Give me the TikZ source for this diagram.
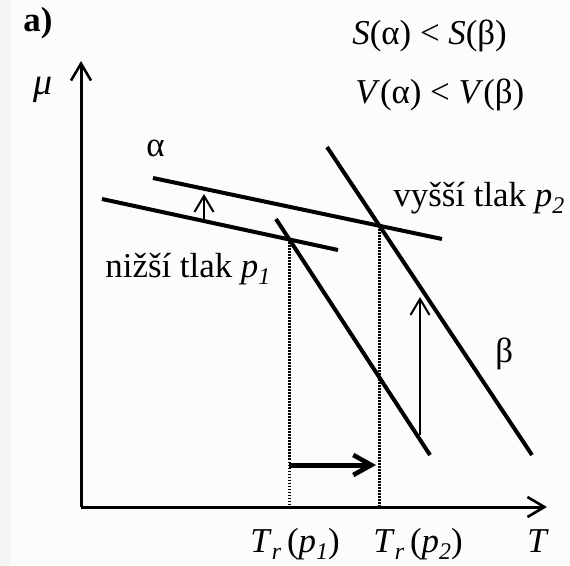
\documentclass[tikz,border=0pt]{standalone}
\usepackage{fontspec}
\setmainfont{Liberation Serif}
\usetikzlibrary{arrows.meta,intersections}
\newcommand{\mysub}[1]{\raisebox{-0.22em}{\fontsize{12}{14}\selectfont\textit{#1}}}
\begin{document}
\begin{tikzpicture}[x=0.5bp,y=-0.5bp,
  lbl/.style={inner sep=0pt,anchor=base west,font=\fontsize{17.5}{20}\selectfont},
  axisline/.style={line width=1.5bp,-{Straight Barb[length=8.5bp,width=10bp,line width=1.3bp]}},
  phaseline/.style={line width=2bp},
  guide/.style={line width=1.2bp,dash pattern=on 0.9bp off 0.6bp},
  shiftarrow/.style={line width=1bp,-{Straight Barb[length=8bp,width=9.5bp,line width=1bp]}},
  boldarrow/.style={line width=2.5bp,-{Straight Barb[length=9bp,width=10bp,line width=2.3bp]}}]
\fill[fill={rgb,255:red,252;green,252;blue,252}] (0,0) rectangle (570,566);
\fill[fill={rgb,255:red,245;green,245;blue,245}] (0,0) rectangle (11,566);
\useasboundingbox (0,0) rectangle (570,566);
% axes
\coordinate (O) at (81,507);
\coordinate (ytop) at (81,61);
\coordinate (xend) at (547,507);
\draw[axisline] (O) -- (ytop);
\draw[axisline] (O) -- (xend);
% phase lines
\coordinate (a1s) at (102,199); \coordinate (a1e) at (338,250);
\coordinate (a2s) at (153,178); \coordinate (a2e) at (442,239);
\coordinate (b1s) at (276,219); \coordinate (b1e) at (430,455);
\coordinate (b2s) at (327,147); \coordinate (b2e) at (532,455);
\draw[phaseline,name path=a1] (a1s) -- (a1e);
\draw[phaseline,name path=a2] (a2s) -- (a2e);
\draw[phaseline,name path=b1] (b1s) -- (b1e);
\draw[phaseline,name path=b2] (b2s) -- (b2e);
\path[name intersections={of=a1 and b1,by=i1}];
\path[name intersections={of=a2 and b2,by=i2}];
\draw[guide] (i1) -- (i1 |- O);
\draw[guide] (i2) -- (i2 |- O);
% arrows
\coordinate (sa1) at (204,221); \coordinate (sa2) at (204,194);
\draw[shiftarrow] (sa1) -- (sa2);
\coordinate (la1) at (420,435); \coordinate (la2) at (420,297);
\draw[shiftarrow] (la1) -- (la2);
\coordinate (ba1) at (i1 |- 0,465); \coordinate (ba2) at (376,465);
\draw[boldarrow] (ba1) -- (ba2);
% labels
\node[lbl] (la) at (23,32) {\textbf{a)}};
\node[lbl] (mu) at (33,95) {\fontsize{19}{20}\selectfont\textit{μ}};
\node[lbl] (sr) at (352,45) {\textit{S}(α) < \textit{S}(β)};
\node[lbl] (vr) at (355,104) {\textit{V}(α) < \textit{V}(β)};
\node[lbl] (al) at (146,157) {α};
\node[lbl] (p1) at (105,277) {nižší tlak \textit{p}\mysub{1}};
\node[lbl] (p2) at (393,206) {vyšší tlak \textit{p}\mysub{2}};
\node[lbl] (be) at (495,362) {β};
\node[lbl] (t1) at (250,552) {\textit{T}\mysub{r}\,(\textit{p}\mysub{1})};
\node[lbl] (t2) at (373,552) {\textit{T}\mysub{r}\,(\textit{p}\mysub{2})};
\node[lbl] (tt) at (527,552) {\textit{T}};
\end{tikzpicture}
\end{document}
